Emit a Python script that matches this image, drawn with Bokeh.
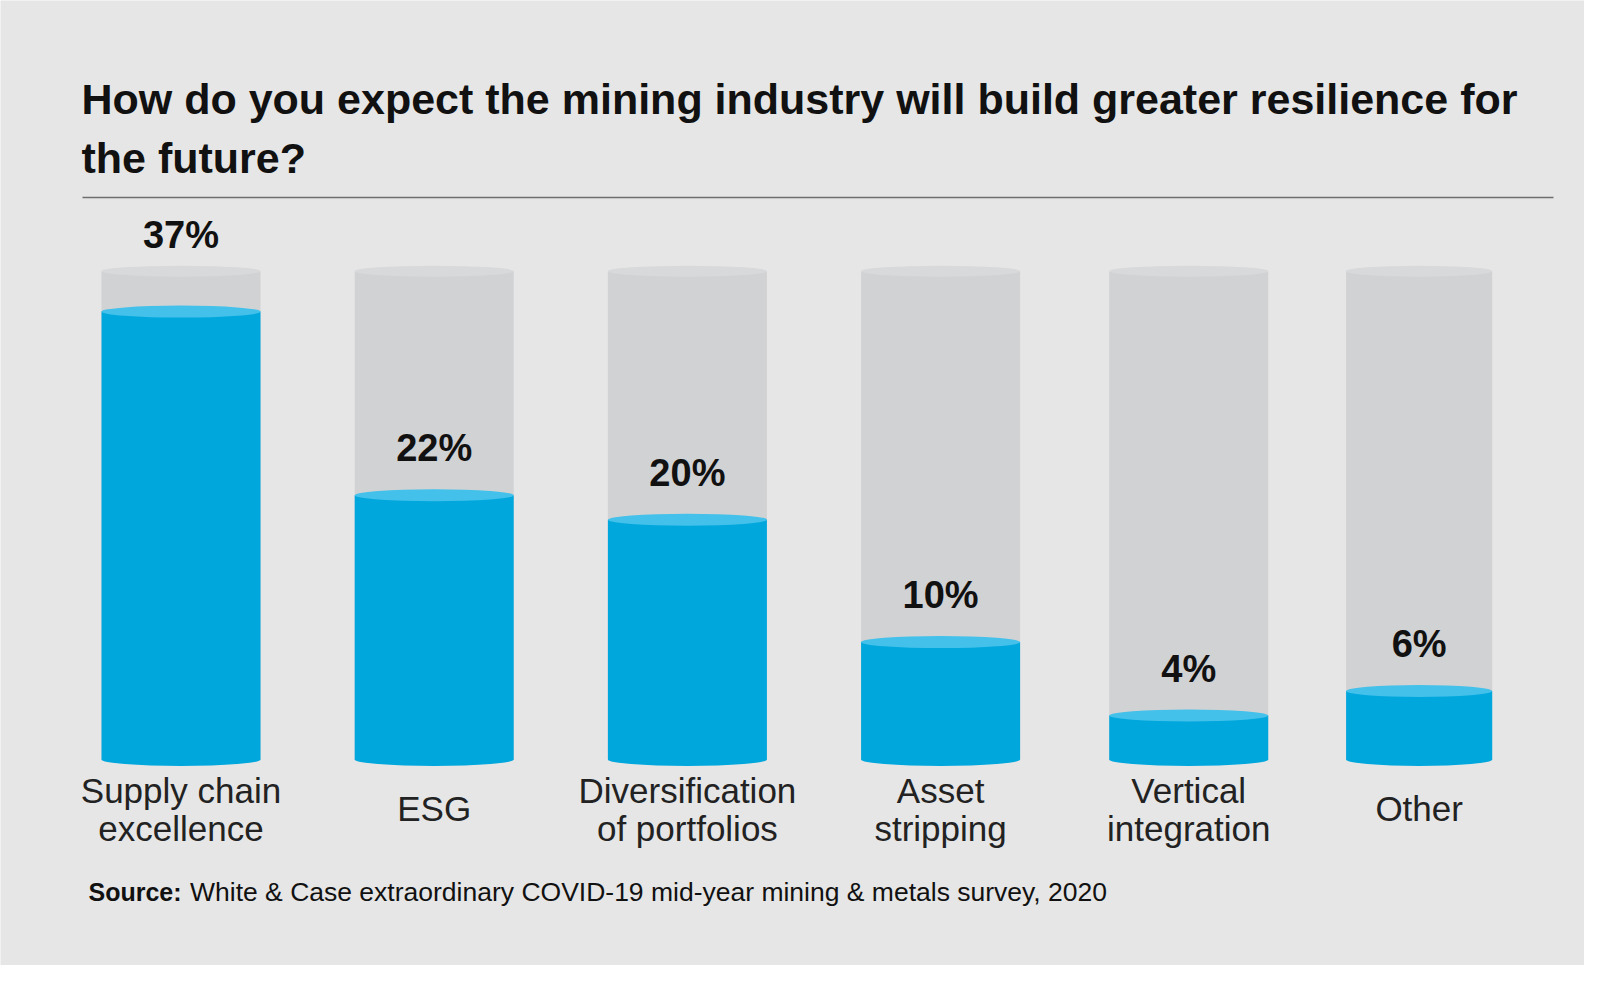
from bokeh.plotting import figure
from bokeh.models import Range1d
from bokeh.embed import file_html
from bokeh.resources import INLINE
from bokeh.core.properties import value

# ---------------- data ----------------
categories = ["Supply chain\nexcellence", "ESG", "Diversification\nof portfolios",
              "Asset\nstripping", "Vertical\nintegration", "Other"]
values = [37, 22, 20, 10, 4, 6]
value_labels = ["37%", "22%", "20%", "10%", "4%", "6%"]
title_lines = ["How do you expect the mining industry will build greater resilience for",
               "the future?"]
source_label = "Source:"
source_text = "White & Case extraordinary COVID-19 mid-year mining & metals survey, 2020"

# ---------------- layout / style ----------------
W, H = 1584, 965
X0, DX = 180.5, 253.2      # pixel of slot 0, pixels per slot
Y0, DY = 764.0, 12.24      # pixel of 0 %, pixels per percent
slots = [0, 1, 2, 3, 3.98, 4.89]
widths = [0.628] * 5 + [0.577]
CAP = 40.3                 # height of the grey cylinder (in % units)
BASE = 5 / DY              # bottom of cylinders

BG = "#e6e6e6"
GREY = "#d1d2d4"
GREY_TOP = "#d8d9db"
BLUE = "#00a7dd"
BLUE_TOP = "#43c1ea"
TXT = "#111111"
FONT = value("Liberation Sans")


def dx(px):
    return (px - X0) / DX


def dy(py):
    return (Y0 - py) / DY


p = figure(width=W, height=H, output_backend="svg", toolbar_location=None,
           x_range=Range1d(-X0 / DX, (W - X0) / DX),
           y_range=Range1d(-(H - Y0) / DY, Y0 / DY),
           min_border=0)
p.xaxis.visible = False
p.yaxis.visible = False
p.grid.visible = False
p.outline_line_color = None
p.background_fill_color = BG
p.border_fill_color = BG

# grey cylinders
p.vbar(x=slots, width=widths, bottom=BASE, top=CAP, fill_color=GREY, line_color=None)
p.ellipse(x=slots, y=[CAP] * len(slots), width=widths, height=11, height_units="screen",
          fill_color=GREY_TOP, line_color=None)

# blue fills
p.vbar(x=slots, width=widths, bottom=BASE, top=values, fill_color=BLUE, line_color=None)
p.ellipse(x=slots, y=[BASE] * len(slots), width=widths, height=13, height_units="screen",
          fill_color=BLUE, line_color=None)
p.ellipse(x=slots, y=values, width=widths, height=12, height_units="screen",
          fill_color=BLUE_TOP, line_color=None)

# value labels
lab_y = []
for v in values:
    yy = v + 47 / DY
    if v + 33 / DY > CAP - 3:
        yy = CAP + 36.5 / DY
    lab_y.append(yy)
p.text(x=slots, y=lab_y, text=value_labels, text_align="center", text_baseline="alphabetic",
       text_font=FONT, text_font_style="bold", text_font_size=value("38px"), text_color=TXT)

# category labels
cx, cy, ct = [], [], []
for s, c in zip(slots, categories):
    lines = c.split("\n")
    if len(lines) == 1:
        cx.append(s); cy.append(dy(808)); ct.append(lines[0])
    else:
        for i, ln in enumerate(lines):
            cx.append(s); cy.append(dy(790 + 38 * i)); ct.append(ln)
p.text(x=cx, y=cy, text=ct, text_align="center", text_baseline="alphabetic",
       text_font=FONT, text_font_size=value("35px"), text_color="#222222")

# title
p.text(x=[dx(81)] * 2, y=[dy(98), dy(157.5)], text=title_lines, text_align="left",
       text_baseline="alphabetic", text_font=FONT, text_font_style="bold",
       text_font_size=value("43px"), text_color=TXT)

# rule under title
p.line(x=[dx(82), dx(1553)], y=[dy(197), dy(197)], line_color="#6f6f6f", line_width=1.5)

# source
p.text(x=[dx(88)], y=[dy(891)], text=[source_label], text_align="left",
       text_baseline="alphabetic", text_font=FONT, text_font_style="bold",
       text_font_size=value("25px"), text_color=TXT)
p.text(x=[dx(189.5)], y=[dy(891)], text=[source_text], text_align="left",
       text_baseline="alphabetic", text_font=FONT,
       text_font_size=value("26.5px"), text_color=TXT)

open("out.html", "w").write(file_html(p, INLINE))
